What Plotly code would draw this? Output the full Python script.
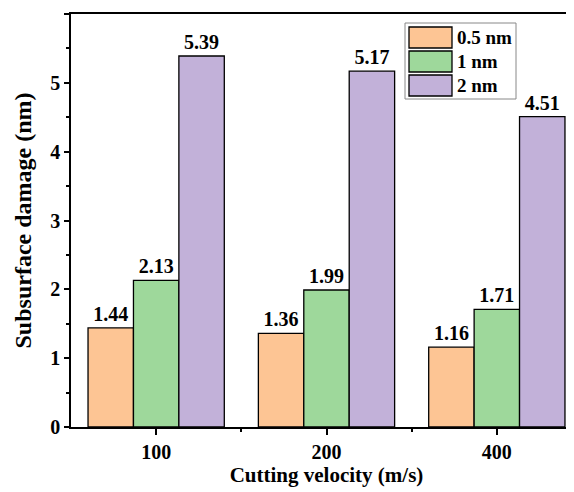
import plotly.graph_objects as go

categories = ["100", "200", "400"]
series_names = ["0.5 nm", "1 nm", "2 nm"]
values_05 = [1.44, 1.36, 1.16]
values_1 = [2.13, 1.99, 1.71]
values_2 = [5.39, 5.17, 4.51]
colors = ["#FDC594", "#9ED89B", "#C2B1D9"]

FONT = "Liberation Serif"
xpos = list(range(len(categories)))

W, H = 574, 492
OFF = 8  # page body offset
ml, mr, mt, mb = 71 - OFF, 0, 14 - OFF, 492 - (427 - OFF)
pw, ph = W - ml - mr, H - mt - mb

fig = go.Figure()
for name, vals, col in zip(series_names, [values_05, values_1, values_2], colors):
    fig.add_trace(go.Bar(
        x=xpos, y=vals, name=name,
        marker=dict(color=col, line=dict(color="black", width=1.3)),
        text=[f"<b>{v:.2f}</b>" for v in vals], textposition="outside",
        textfont=dict(family=FONT, size=20, color="black"),
        cliponaxis=False, showlegend=False,
    ))

def pxp(x):
    return (x - OFF - ml) / pw
def pyp(y):
    return 1 - (y - OFF - mt) / ph

# custom legend (box with large swatches), positions in screen pixels
lx0, lx1, ly0, ly1 = 405, 516, 23, 99
shapes = [dict(type="rect", xref="paper", yref="paper",
               x0=pxp(lx0), x1=pxp(lx1), y0=pyp(ly1), y1=pyp(ly0),
               line=dict(color="#888888", width=1), fillcolor="white", layer="above")]
annotations = []
rows = [(27, 48), (51, 72), (75, 96)]
for (t, b), name, col in zip(rows, series_names, colors):
    shapes.append(dict(type="rect", xref="paper", yref="paper",
                       x0=pxp(409), x1=pxp(452), y0=pyp(b), y1=pyp(t),
                       line=dict(color="black", width=1.3), fillcolor=col, layer="above"))
    annotations.append(dict(xref="paper", yref="paper", x=pxp(455), y=pyp((t + b) / 2),
                            text=f"<b>{name}</b>", showarrow=False, xanchor="left", yanchor="middle",
                            font=dict(family=FONT, size=19, color="black")))

fig.update_layout(
    width=W, height=H,
    margin=dict(l=ml, r=mr, t=mt, b=mb, pad=0, autoexpand=False),
    paper_bgcolor="white", plot_bgcolor="white",
    barmode="group", bargap=0.2, bargroupgap=0,
    font=dict(family=FONT, size=18, color="black"),
    shapes=shapes, annotations=annotations,
    xaxis=dict(
        range=[-0.5, 2.5], tickvals=xpos, ticktext=[f"<b>{c}</b>" for c in categories],
        showline=True, linecolor="black", linewidth=1.5, mirror=True,
        ticks="outside", ticklen=6, tickwidth=1.5, tickcolor="black",
        minor=dict(tickvals=[0.5, 1.5], ticks="outside", ticklen=3, tickwidth=1.5, tickcolor="black"),
        showgrid=False, zeroline=False, automargin=False,
        tickfont=dict(family=FONT, size=20, color="black"),
        title=dict(text="<b>Cutting velocity (m/s)</b>", font=dict(family=FONT, size=21, color="black"), standoff=4),
    ),
    yaxis=dict(
        range=[0, 6], dtick=1, tickformat="d",
        showline=True, linecolor="black", linewidth=1.5, mirror=False,
        ticks="outside", ticklen=5, tickwidth=1.5, tickcolor="black",
        minor=dict(dtick=0.5, ticks="outside", ticklen=3, tickwidth=1.5, tickcolor="black"),
        showgrid=False, zeroline=False, automargin=False,
        tickfont=dict(family=FONT, size=20, color="black"),
        tickprefix="<b>", ticksuffix="</b>",
        title=dict(text="<b>Subsurface damage (nm)</b>", font=dict(family=FONT, size=24, color="black"), standoff=12),
    ),
)

fig.write_html("out.html")
